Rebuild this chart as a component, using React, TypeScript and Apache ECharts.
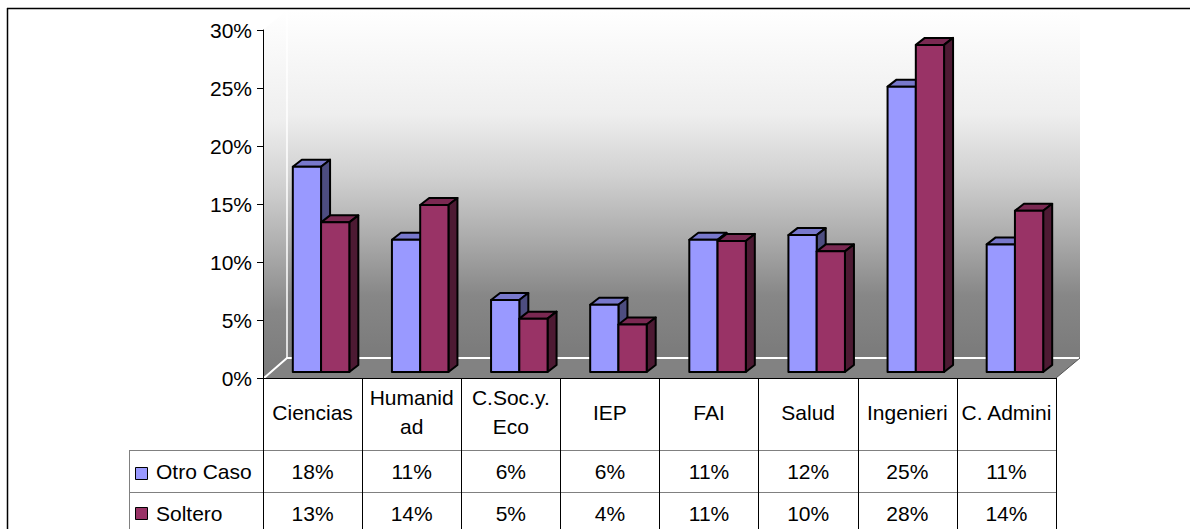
import React, { useEffect, useRef } from "react";
import * as echarts from "echarts";

const CATEGORIES = ["Ciencias", "Humanid\nad", "C.Soc.y.\nEco", "IEP", "FAI", "Salud", "Ingenieri", "C. Admini"];
const OTRO_CASO = [17.7, 11.4, 6.2, 5.8, 11.4, 11.8, 24.6, 11.0];
const SOLTERO = [12.9, 14.4, 4.6, 4.1, 11.3, 10.4, 28.2, 13.9];
const SERIES_NAMES = ["Otro Caso", "Soltero"];
const Y_MAX = 30;
const Y_STEP = 5;

const FONT = '"Liberation Sans", Arial, sans-serif';
const W = 1190;
const H = 529;
const PL = 263; // plot left (front plane)
const PR = 1056; // plot right
const PT = 30; // 30% line
const PB = 378; // 0% line
const DX = 24; // wall depth offset x
const DY = -20; // wall depth offset y
const ROW1 = 450;
const ROW2 = 492;
const LEG_X = 129;

const COLORS = [
  { front: "#9999FF", top: "#7878CC", side: "#4D4D80" },
  { front: "#993366", top: "#7A2952", side: "#4D1A33" },
];

function barSeries(idx: number, values: number[]) {
  const c = COLORS[idx];
  return {
    type: "custom",
    name: SERIES_NAMES[idx],
    data: values.map((v, i) => [i, v]),
    z: 5 + idx,
    renderItem: (params: any, api: any) => {
      const i = api.value(0);
      const v = api.value(1);
      const base = api.coord([i, 0]);
      const top = api.coord([i, v]);
      const catW = api.size([1, 0])[0];
      const bw = catW * 0.285;
      const cx = base[0] + 8.5;
      const x0 = idx === 0 ? cx - bw : cx;
      const x1 = x0 + bw;
      const yb = base[1] - 6;
      const yt = top[1] - 6;
      const dx = 9;
      const dy = -7;
      const line = { stroke: "#000", lineWidth: 2, lineJoin: "round" };
      return {
        type: "group",
        children: [
          {
            type: "polygon",
            shape: { points: [[x0, yt], [x1, yt], [x1 + dx, yt + dy], [x0 + dx, yt + dy]] },
            style: { fill: c.top, ...line },
          },
          {
            type: "polygon",
            shape: { points: [[x1, yt], [x1 + dx, yt + dy], [x1 + dx, yb + dy], [x1, yb]] },
            style: { fill: c.side, ...line },
          },
          {
            type: "rect",
            shape: { x: x0, y: yt, width: bw, height: yb - yt },
            style: { fill: c.front, ...line },
          },
        ],
      };
    },
  };
}

export default function App() {
  const ref = useRef<HTMLDivElement>(null);
  useEffect(() => {
    if (!ref.current) return;
    const chart = echarts.init(ref.current, null, { renderer: "svg" });
    const wallGrad = (y0: number, y1: number) =>
      new echarts.graphic.LinearGradient(0, 0, 0, 1, [
        { offset: 0, color: "#FFFFFF" },
        { offset: 0.3, color: "#EEEEEE" },
        { offset: 0.48, color: "#D0D0D0" },
        { offset: 0.67, color: "#A8A8A8" },
        { offset: 0.82, color: "#878787" },
        { offset: 1, color: "#7A7A7A" },
      ]);
    const tableText = (text: string, x: number, y: number, align = "center") => ({
      type: "text",
      style: { text, x, y, align, verticalAlign: "middle", fontSize: 21, fontFamily: FONT, fill: "#000" },
    });

    chart.setOption({
      animation: false,
      backgroundColor: "#fff",
      grid: { left: PL, right: W - PR, top: PT, bottom: H - PB, containLabel: false },
      xAxis: {
        type: "category",
        data: CATEGORIES,
        axisLine: { show: true, lineStyle: { color: "#000", width: 1 } },
        axisTick: { show: true, length: H - PB, lineStyle: { color: "#000", width: 1 } },
        axisLabel: {
          interval: 0,
          margin: 34,
          verticalAlign: "middle",
          fontSize: 21,
          lineHeight: 29,
          fontFamily: FONT,
          color: "#000",
        },
        splitLine: { show: false },
        z: 3,
      },
      yAxis: {
        type: "value",
        min: 0,
        max: Y_MAX,
        interval: Y_STEP,
        axisLine: { show: true, lineStyle: { color: "#000", width: 1 } },
        axisTick: { show: true, length: 6, lineStyle: { color: "#000" } },
        axisLabel: { formatter: "{value}%", fontSize: 21, fontFamily: FONT, color: "#000", margin: 11 },
        splitLine: { show: false },
        z: 3,
      },
      graphic: [
        // side wall
        {
          type: "polygon",
          z: -10,
          shape: { points: [[PL, PT], [PL + DX, PT + DY], [PL + DX, PB + DY], [PL, PB]] },
          style: { fill: wallGrad(PT + DY, PB) },
        },
        // back wall
        {
          type: "rect",
          z: -10,
          shape: { x: PL + DX, y: PT + DY, width: PR - PL, height: PB - PT },
          style: { fill: wallGrad(PT + DY, PB + DY) },
        },
        // floor
        {
          type: "polygon",
          z: -9,
          shape: { points: [[PL, PB], [PL + DX, PB + DY], [PR + DX, PB + DY], [PR, PB]] },
          style: { fill: "#828282" },
        },
        {
          type: "polyline",
          z: -8,
          shape: { points: [[PL + 1, PB], [PL + DX, PB + DY], [PR + DX - 1, PB + DY]] },
          style: { stroke: "#fff", lineWidth: 2, fill: null },
        },
        {
          type: "line",
          z: -8,
          shape: { x1: PL + DX, y1: PT + DY, x2: PL + DX, y2: PB + DY },
          style: { stroke: "#fff", lineWidth: 1.5 },
        },
        {
          type: "line",
          z: -8,
          shape: { x1: PR, y1: PB, x2: PR + DX, y2: PB + DY },
          style: { stroke: "#555", lineWidth: 1 },
        },
        // outer border
        { type: "line", z: 10, shape: { x1: 7, y1: 8.5, x2: W, y2: 8.5 }, style: { stroke: "#000", lineWidth: 1.5 } },
        { type: "line", z: 10, shape: { x1: 7.5, y1: 8, x2: 7.5, y2: H }, style: { stroke: "#000", lineWidth: 1.5 } },
        // table lines
        { type: "line", z: 1, shape: { x1: LEG_X, y1: ROW1 + 0.5, x2: PR, y2: ROW1 + 0.5 }, style: { stroke: "#808080", lineWidth: 1 } },
        { type: "line", z: 1, shape: { x1: LEG_X, y1: ROW2 + 0.5, x2: PR, y2: ROW2 + 0.5 }, style: { stroke: "#808080", lineWidth: 1 } },
        { type: "line", z: 1, shape: { x1: LEG_X + 0.5, y1: ROW1, x2: LEG_X + 0.5, y2: H }, style: { stroke: "#808080", lineWidth: 1 } },
        { type: "line", z: 1, shape: { x1: PR + 0.5, y1: PB, x2: PR + 0.5, y2: H }, style: { stroke: "#808080", lineWidth: 1 } },
        // legend keys
        { type: "rect", z: 2, shape: { x: 135.5, y: 467.5, width: 12, height: 12 }, style: { fill: COLORS[0].front, stroke: "#000", lineWidth: 1 } },
        { type: "rect", z: 2, shape: { x: 135.5, y: 507.5, width: 12, height: 12 }, style: { fill: COLORS[1].front, stroke: "#000", lineWidth: 1 } },
        { z: 2, ...tableText(SERIES_NAMES[0], 156, 471, "left") },
        { z: 2, ...tableText(SERIES_NAMES[1], 156, 513, "left") },
      ],
      series: [
        barSeries(0, OTRO_CASO),
        barSeries(1, SOLTERO),
        {
          type: "custom",
          name: "table",
          silent: true,
          clip: false,
          data: CATEGORIES.map((_, i) => [i, 0]),
          renderItem: (params: any, api: any) => {
            const i = api.value(0);
            const p = api.coord([i, 0]);
            return {
              type: "group",
              children: [
                tableText(Math.round(OTRO_CASO[i]) + "%", p[0], ROW1 + 21),
                tableText(Math.round(SOLTERO[i]) + "%", p[0], ROW2 + 21),
              ],
            };
          },
        },
      ],
    });
    return () => chart.dispose();
  }, []);
  return <div ref={ref} style={{ position: "absolute", left: 0, top: 0, width: W, height: H }} />;
}
